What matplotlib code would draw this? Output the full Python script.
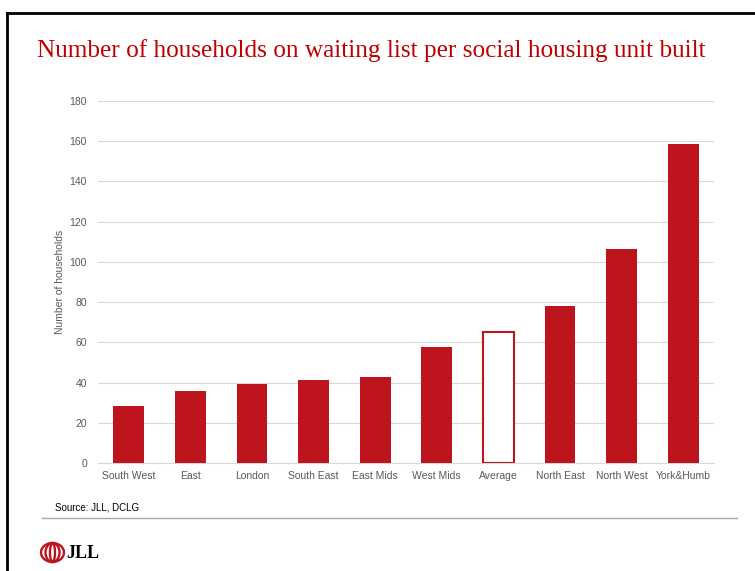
import matplotlib.pyplot as plt
from matplotlib.patches import Ellipse
from matplotlib.lines import Line2D

regions = ["South West", "East", "London", "South East", "East Mids",
           "West Mids", "Average", "North East", "North West", "York&Humb"]
households = [28.5, 36, 39.5, 41.5, 43, 57.5, 65, 78, 106.5, 158.5]
yticks = [0, 20, 40, 60, 80, 100, 120, 140, 160, 180]

red = "#BE141D"
grey = "#595959"

fig = plt.figure(figsize=(7.55, 5.71), dpi=100)

# slide frame (clipped at right and bottom)
fig.add_artist(Line2D([7/755, 7/755], [0, 1 - 13/571], color="black", lw=2, transform=fig.transFigure))
fig.add_artist(Line2D([7/755, 1], [1 - 13/571, 1 - 13/571], color="black", lw=2, transform=fig.transFigure))

ax = fig.add_axes([98/755, 1 - 463/571, 616/755, 362/571])
x = range(len(regions))
for i, (r, v) in enumerate(zip(regions, households)):
    if r == "Average":
        ax.bar(i, v, width=0.5, color="white", edgecolor=red, linewidth=1.5, zorder=3)
    else:
        ax.bar(i, v, width=0.5, color=red, zorder=3)

ax.set_xlim(-0.5, len(regions) - 0.5)
ax.set_ylim(0, 180)
ax.set_yticks(yticks)
ax.set_xticks(list(x))
ax.set_xticklabels(regions)
ax.grid(axis="y", color="#D9D9D9", lw=0.8, zorder=0)
for s in ["top", "right", "left"]:
    ax.spines[s].set_visible(False)
ax.spines["bottom"].set_color("#D9D9D9")
ax.tick_params(axis="both", length=0, labelsize=7.5, colors=grey, labelfontfamily="Liberation Sans")
ax.tick_params(axis="y", pad=8)
ax.tick_params(axis="x", pad=6)
ax.set_ylabel("Number of households", fontsize=7.5, color=grey, family="Liberation Sans", labelpad=3)

fig.text(37/755, 1 - 51/571, "Number of households on waiting list per social housing unit built",
         color="#C00000", fontsize=18.2, family="Liberation Serif", va="center", ha="left")

fig.text(55/755, 1 - 508/571, "Source: JLL, DCLG", fontsize=7, family="Liberation Sans", va="center")
fig.add_artist(Line2D([42/755, 737/755], [1 - 518/571, 1 - 518/571], color="#A6A6A6", lw=1, transform=fig.transFigure))

# JLL logo, axes in pixel units
lax = fig.add_axes([38/755, 1 - 566/571, 70/755, 26/571])
lax.set_xlim(38, 108)
lax.set_ylim(566, 540)
lax.axis("off")
for w in [23, 14, 5]:
    lax.add_patch(Ellipse((52.5, 552.5), w, 19, fill=False, edgecolor=red, lw=1.7))
lax.text(66, 553, "JLL", fontsize=13, fontweight="bold", family="Liberation Serif", va="center", ha="left")

fig.savefig("out.png", dpi=100)
